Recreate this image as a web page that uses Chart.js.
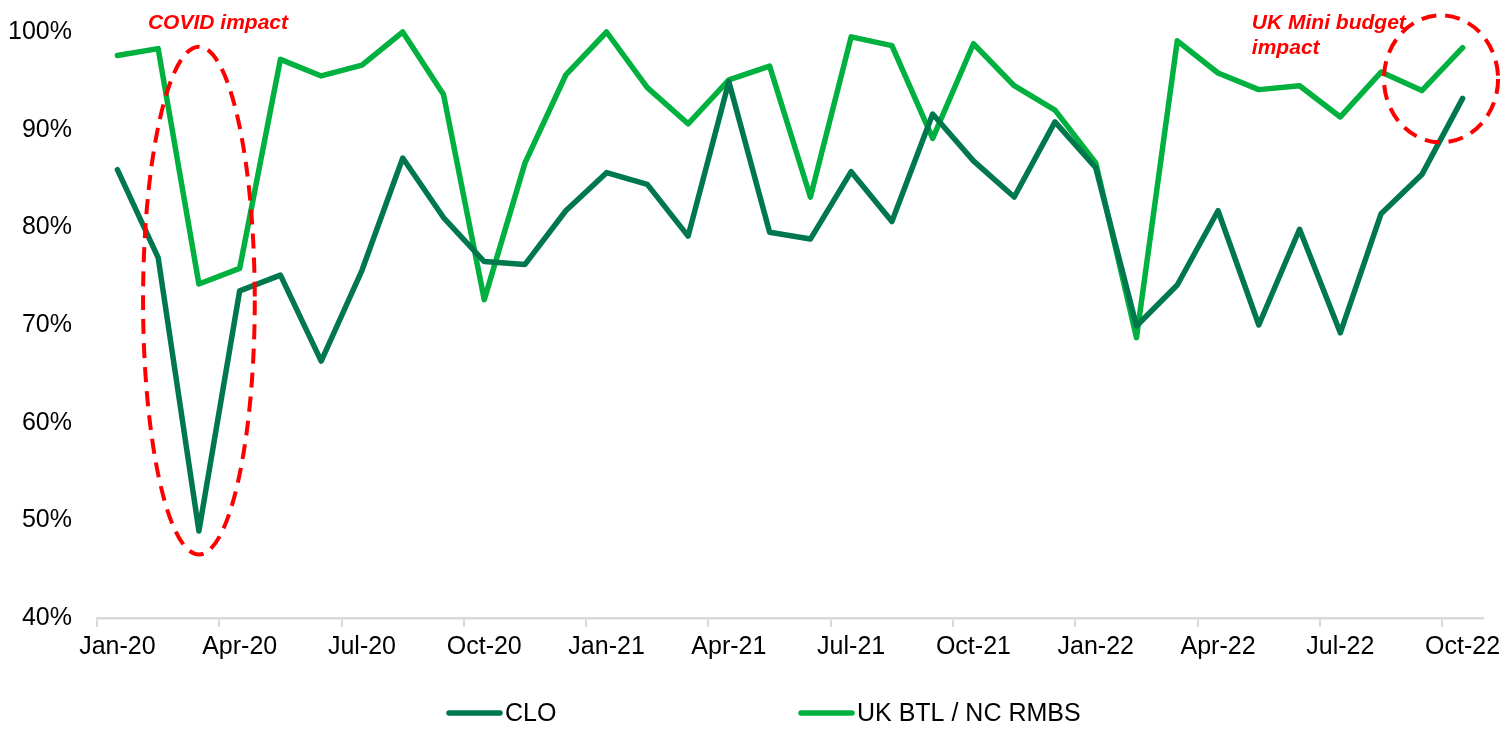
<!DOCTYPE html>
<html>
<head>
<meta charset="utf-8">
<script src="https://cdn.jsdelivr.net/npm/chart.js@4.4.1/dist/chart.umd.min.js"></script>
<style>
  html, body { margin: 0; padding: 0; background: #fff; overflow: hidden; }
  #wrap { width: 1520px; height: 748px; }
</style>
</head>
<body>
<div id="wrap"><canvas id="chart" width="1520" height="748"></canvas></div>
<script>
const months = [
  "Jan-20", "Feb-20", "Mar-20", "Apr-20", "May-20", "Jun-20", "Jul-20", "Aug-20", "Sep-20", "Oct-20", "Nov-20", "Dec-20",
  "Jan-21", "Feb-21", "Mar-21", "Apr-21", "May-21", "Jun-21", "Jul-21", "Aug-21", "Sep-21", "Oct-21", "Nov-21", "Dec-21",
  "Jan-22", "Feb-22", "Mar-22", "Apr-22", "May-22", "Jun-22", "Jul-22", "Aug-22", "Sep-22", "Oct-22"
];

const clo = [
  85.9, 76.9, 48.9, 73.5, 75.1, 66.3, 75.6, 87.1, 81.0, 76.5, 76.2, 81.7,
  85.6, 84.4, 79.1, 94.9, 79.5, 78.8, 85.7, 80.6, 91.6, 86.8, 83.1, 90.8,
  86.1, 69.9, 74.1, 81.7, 70.0, 79.8, 69.2, 81.4, 85.4, 93.2
];

const ukBtl = [
  97.6, 98.3, 74.2, 75.8, 97.2, 95.5, 96.6, 100, 93.6, 72.6, 86.6, 95.6,
  100, 94.3, 90.6, 95.1, 96.5, 83.1, 99.5, 98.6, 89.1, 98.8, 94.5, 92.0,
  86.6, 68.7, 99.1, 95.8, 94.1, 94.5, 91.3, 95.9, 94.0, 98.4
];

const yTicks = [40, 50, 60, 70, 80, 90, 100];
const seriesNames = ["CLO", "UK BTL / NC RMBS"];

const FONT = "'Liberation Sans', Arial, sans-serif";
const RED = "#ff0000";

// red dashed rings + notes, placed in data units (category index, %)
const callouts = [
  { cx: 2, cy: 72.5, rx: 1.37, ry: 26, lines: ["COVID impact"], tx: 0.75, ty: 23 },
  { cx: 32.47, cy: 95.2, rx: 1.4, ry: 6.5, lines: ["UK Mini budget", "impact"], tx: 27.83, ty: 23 }
];

const calloutPlugin = {
  id: "callouts",
  afterDatasetsDraw(chart) {
    const { ctx, scales: { x, y } } = chart;
    ctx.save();
    callouts.forEach(c => {
      const px = x.getPixelForValue(c.cx);
      const py = y.getPixelForValue(c.cy);
      const rx = x.getPixelForValue(c.cx + c.rx) - px;
      const ry = y.getPixelForValue(c.cy - c.ry) - py;
      ctx.beginPath();
      ctx.setLineDash([15, 9]);
      ctx.lineWidth = 4;
      ctx.strokeStyle = RED;
      ctx.ellipse(px, py, rx, ry, 0, 0, Math.PI * 2);
      ctx.stroke();

      ctx.setLineDash([]);
      ctx.fillStyle = RED;
      ctx.font = "italic bold 21px " + FONT;
      ctx.textAlign = "left";
      ctx.textBaseline = "middle";
      const tx = x.getPixelForValue(c.tx);
      c.lines.forEach((t, i) => ctx.fillText(t, tx, c.ty + i * 25));
    });
    ctx.restore();
  }
};

// Excel-style legend, two items spread along the bottom
const legendSpots = [447, 799];
const legendPlugin = {
  id: "bottomLegend",
  afterDraw(chart) {
    const ctx = chart.ctx;
    const yMid = 713;
    ctx.save();
    chart.data.datasets.forEach((ds, i) => {
      const x0 = legendSpots[i];
      ctx.beginPath();
      ctx.lineWidth = 5.5;
      ctx.lineCap = "round";
      ctx.strokeStyle = ds.borderColor;
      ctx.moveTo(x0 + 2, yMid);
      ctx.lineTo(x0 + 53, yMid);
      ctx.stroke();
      ctx.fillStyle = "#000";
      ctx.font = "25px " + FONT;
      ctx.textAlign = "left";
      ctx.textBaseline = "middle";
      ctx.fillText(ds.label, x0 + 58, yMid + 1);
    });
    ctx.restore();
  }
};

new Chart(document.getElementById("chart"), {
  type: "line",
  data: {
    labels: months,
    datasets: [
      {
        label: seriesNames[0],
        data: clo,
        borderColor: "#00784e",
        backgroundColor: "#00784e",
        borderWidth: 5.5,
        pointRadius: 0,
        tension: 0,
        borderJoinStyle: "round",
        borderCapStyle: "round",
        clip: false
      },
      {
        label: seriesNames[1],
        data: ukBtl,
        borderColor: "#00b140",
        backgroundColor: "#00b140",
        borderWidth: 5.5,
        pointRadius: 0,
        tension: 0,
        borderJoinStyle: "round",
        borderCapStyle: "round",
        clip: false
      }
    ]
  },
  options: {
    responsive: false,
    animation: false,
    devicePixelRatio: 1,
    layout: { padding: { left: 0, right: 37, top: 29, bottom: 80 } },
    plugins: {
      legend: { display: false },
      tooltip: { enabled: false }
    },
    scales: {
      x: {
        offset: true,
        grid: {
          offset: true,
          drawOnChartArea: false,
          drawTicks: true,
          tickLength: 9,
          lineWidth: 2,
          tickColor: ctx => (ctx.index % 3 === 0 ? "#d9d9d9" : "rgba(0,0,0,0)")
        },
        border: { display: true, color: "#d9d9d9", width: 2.5 },
        ticks: {
          autoSkip: false,
          maxRotation: 0,
          minRotation: 0,
          padding: 5,
          color: "#000",
          font: { family: FONT, size: 25 },
          callback: (v, i) => (i % 3 === 0 ? months[i] : "")
        },
        afterFit: s => { s.height = 50; }
      },
      y: {
        min: 40,
        max: 100,
        afterBuildTicks: s => { s.ticks = yTicks.map(v => ({ value: v })); },
        grid: { display: false },
        border: { display: false },
        ticks: {
          padding: 17,
          color: "#000",
          font: { family: FONT, size: 25 },
          callback: v => v + "%"
        },
        afterFit: s => { s.width = 97; }
      }
    }
  },
  plugins: [calloutPlugin, legendPlugin]
});
</script>
</body>
</html>
